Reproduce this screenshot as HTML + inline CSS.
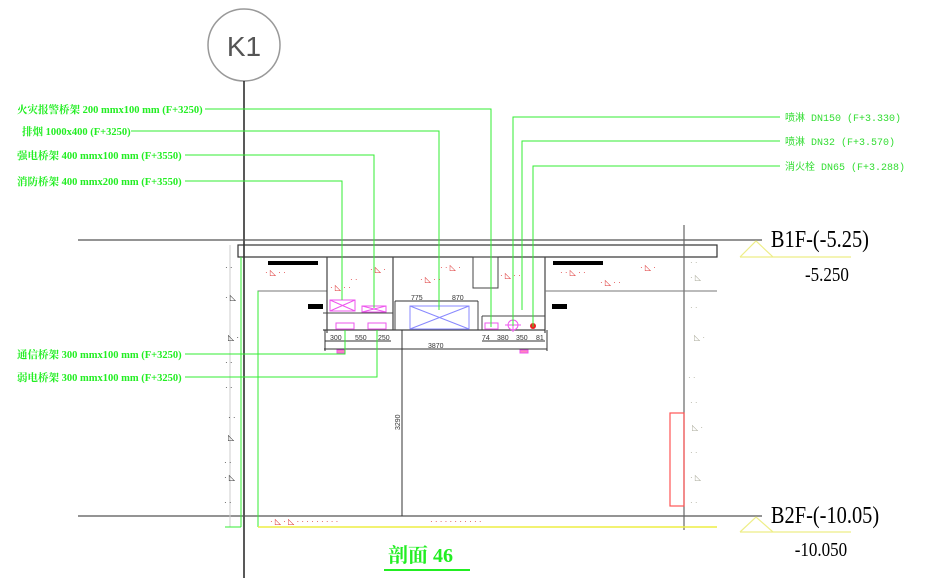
<!DOCTYPE html>
<html><head><meta charset="utf-8"><style>
body{margin:0;background:#fff;width:929px;height:578px;overflow:hidden}
svg{display:block}
.g{font-family:"Liberation Serif","Noto Serif CJK SC",serif;font-size:10.5px;fill:#22ee22;font-weight:bold}
.gr{font-family:"Liberation Mono","Noto Sans CJK SC",monospace;font-size:10px;fill:#33dd33}
.d{font-family:"Liberation Sans",sans-serif;font-size:7px;fill:#333}
.el{font-family:"Liberation Serif",serif;fill:#000}
</style></head><body>
<svg width="929" height="578" viewBox="0 0 929 578" xmlns="http://www.w3.org/2000/svg">
<circle cx="244" cy="45" r="36" fill="#fff" stroke="#999" stroke-width="1.5"/>
<text x="244" y="56" text-anchor="middle" font-family="Liberation Sans,sans-serif" font-size="28" fill="#555">K1</text>
<line x1="244" y1="81" x2="244" y2="578" stroke="#222" stroke-width="1.5"/>
<line x1="78" y1="240" x2="762" y2="240" stroke="#555" stroke-width="1.3"/>
<line x1="78" y1="516" x2="762" y2="516" stroke="#555" stroke-width="1.3"/>
<rect x="238" y="245" width="479" height="12" fill="none" stroke="#333" stroke-width="1.2"/>
<line x1="684" y1="225" x2="684" y2="530" stroke="#666" stroke-width="1.2"/>
<line x1="230" y1="245" x2="230" y2="527" stroke="#ccc" stroke-width="1"/>
<polyline points="258,527 258,291 327,291" fill="none" stroke="#777" stroke-width="1"/>
<line x1="327" y1="257" x2="327" y2="333" stroke="#444" stroke-width="1.2"/>
<line x1="393" y1="257" x2="393" y2="330" stroke="#444" stroke-width="1.2"/>
<line x1="545" y1="257" x2="545" y2="333" stroke="#444" stroke-width="1.2"/>
<line x1="545" y1="291" x2="717" y2="291" stroke="#777" stroke-width="1"/>
<rect x="473" y="257" width="25" height="31" fill="none" stroke="#444"/>
<line x1="323" y1="313" x2="393" y2="313" stroke="#444"/>
<line x1="323" y1="330" x2="545" y2="330" stroke="#444" stroke-width="1.2"/>
<line x1="482" y1="316" x2="545" y2="316" stroke="#444"/>
<line x1="482" y1="316" x2="482" y2="330" stroke="#444"/>
<line x1="395" y1="301" x2="395" y2="330" stroke="#444"/>
<line x1="478" y1="301" x2="478" y2="330" stroke="#444"/>
<rect x="268" y="261" width="50" height="4" fill="#000"/>
<rect x="553" y="261" width="50" height="4" fill="#000"/>
<rect x="308" y="304" width="15" height="5" fill="#000"/>
<rect x="552" y="304" width="15" height="5" fill="#000"/>
<g fill="none" stroke="#ee55ee" stroke-width="1">
<rect x="330" y="300" width="25" height="11"/><path d="M330 300L355 311M355 300L330 311"/>
<rect x="362" y="306" width="24" height="6"/><path d="M362 306L386 312M386 306L362 312"/>
<rect x="336" y="323" width="18" height="6"/><rect x="368" y="323" width="18" height="6"/>
<rect x="485" y="323" width="13" height="6"/>
<circle cx="513" cy="325" r="5"/><path d="M505 325H521M513 318V332"/>
<rect x="337" y="350" width="8" height="3" fill="#f8b"/>
<rect x="520" y="350" width="8" height="3" fill="#f8b"/>
</g>
<circle cx="533" cy="326" r="3" fill="#e22"/>
<rect x="410" y="306" width="59" height="23" fill="none" stroke="#88f"/>
<path d="M410 306L469 329M469 306L410 329" stroke="#88f"/>
<g stroke="#333" stroke-width="1">
<line x1="395" y1="301" x2="478" y2="301"/>
<line x1="325" y1="341" x2="391" y2="341"/><line x1="482" y1="341" x2="545" y2="341"/>
<line x1="324" y1="349" x2="547" y2="349"/>
<line x1="402" y1="330" x2="402" y2="516"/>
<line x1="325" y1="330" x2="325" y2="351"/><line x1="547" y1="330" x2="547" y2="351"/>
</g>
<text class="d" x="411" y="300">775</text><text class="d" x="452" y="300">870</text>
<text class="d" x="330" y="340">300</text><text class="d" x="355" y="340">550</text><text class="d" x="378" y="340">250</text>
<text class="d" x="482" y="340">74</text><text class="d" x="497" y="340">380</text><text class="d" x="516" y="340">350</text><text class="d" x="536" y="340">81</text>
<text class="d" x="428" y="348">3870</text>
<text class="d" transform="translate(400,430) rotate(-90)">3290</text>
<g fill="none" stroke="#33ee33" stroke-width="1">
<line x1="241" y1="257" x2="241" y2="527"/><line x1="258" y1="291" x2="258" y2="527"/>
<polyline points="205,109 491,109 491,327"/>
<polyline points="131,131 439,131 439,310"/>
<polyline points="185,155 374,155 374,308"/>
<polyline points="185,181 342,181 342,300"/>
<polyline points="780,117 513,117 513,326"/>
<polyline points="780,141 522,141 522,310"/>
<polyline points="780,166 533,166 533,327"/>
<polyline points="185,354 345,354 345,330"/>
<polyline points="185,377 377,377 377,330"/>
<line x1="225" y1="527" x2="241" y2="527"/>
</g>
<line x1="258" y1="527" x2="717" y2="527" stroke="#eeee44" stroke-width="1.5"/>
<rect x="670" y="413" width="14" height="93" fill="none" stroke="#f55" stroke-width="1.2"/>
<g fill="#d33" font-size="8" font-family="Liberation Sans">
<text x="265" y="275">· ◺ ·  ·</text><text x="330" y="290">· ◺ ·  ·</text><text x="370" y="272">· ◺ ·</text><text x="420" y="282">· ◺ · ·</text><text x="500" y="278">· ◺ · ·</text><text x="600" y="285">· ◺ · ·</text><text x="440" y="270">· · ◺ ·</text><text x="560" y="275">·  · ◺ · ·</text><text x="350" y="282">· ·</text><text x="640" y="270">· ◺ ·</text>
<text x="270" y="524">· ◺ · ◺ · ·  · · · · ·  · ·</text><text x="430" y="524">· · ·  · ·  ·  · ·  · · ·</text>
</g>
<g fill="#333" font-size="8" font-family="Liberation Sans">
<text x="225" y="270">· ·</text><text x="225" y="300">· ◺</text><text x="228" y="340">◺ ·</text><text x="225" y="365">· ·</text><text x="225" y="390">· ·</text><text x="228" y="420">· ·</text><text x="228" y="440">◺</text><text x="224" y="465">· ·</text><text x="224" y="480">· ◺</text><text x="224" y="505">· ·</text>
</g>
<g fill="#aa9" font-size="8" font-family="Liberation Sans">
<text x="690" y="265">· ·</text><text x="690" y="280">· ◺</text><text x="690" y="310">· ·</text><text x="694" y="340">◺ ·</text><text x="688" y="380">· ·</text><text x="690" y="405">· ·</text><text x="692" y="430">◺ ·</text><text x="690" y="455">· ·</text><text x="690" y="480">· ◺</text><text x="690" y="505">· ·</text>
</g>
<text class="g" x="17" y="113">火灾报警桥架 200 mmx100 mm (F+3250)</text>
<text class="g" x="22" y="135">排烟 1000x400 (F+3250)</text>
<text class="g" x="17" y="159">强电桥架 400 mmx100 mm (F+3550)</text>
<text class="g" x="17" y="185">消防桥架 400 mmx200 mm (F+3550)</text>
<text class="g" x="17" y="358">通信桥架 300 mmx100 mm (F+3250)</text>
<text class="g" x="17" y="381">弱电桥架 300 mmx100 mm (F+3250)</text>
<text class="gr" x="785" y="121">喷淋 DN150 (F+3.330)</text>
<text class="gr" x="785" y="145">喷淋 DN32 (F+3.570)</text>
<text class="gr" x="785" y="170">消火栓 DN65 (F+3.288)</text>
<g fill="none" stroke="#ee8" stroke-width="1.2">
<polyline points="740,257 756,241 773,257"/><line x1="740" y1="257" x2="851" y2="257"/>
<polyline points="740,532 756,517 773,532"/><line x1="740" y1="532" x2="851" y2="532"/>
</g>
<text class="el" x="771" y="247" font-size="24" transform="scale(0.85,1) translate(136,0)">B1F-(-5.25)</text>
<text class="el" x="805" y="281" font-size="20" transform="scale(0.85,1) translate(142,0)">-5.250</text>
<text class="el" x="771" y="523" font-size="24" transform="scale(0.85,1) translate(136,0)">B2F-(-10.05)</text>
<text class="el" x="795" y="556" font-size="20" transform="scale(0.85,1) translate(140,0)">-10.050</text>
<text x="388" y="562" font-family="Liberation Serif,Noto Serif CJK SC,serif" font-size="20" font-weight="bold" fill="#22ee22">剖面 46</text>
<line x1="384" y1="570" x2="470" y2="570" stroke="#22ee22" stroke-width="2"/>
</svg>
</body></html>
